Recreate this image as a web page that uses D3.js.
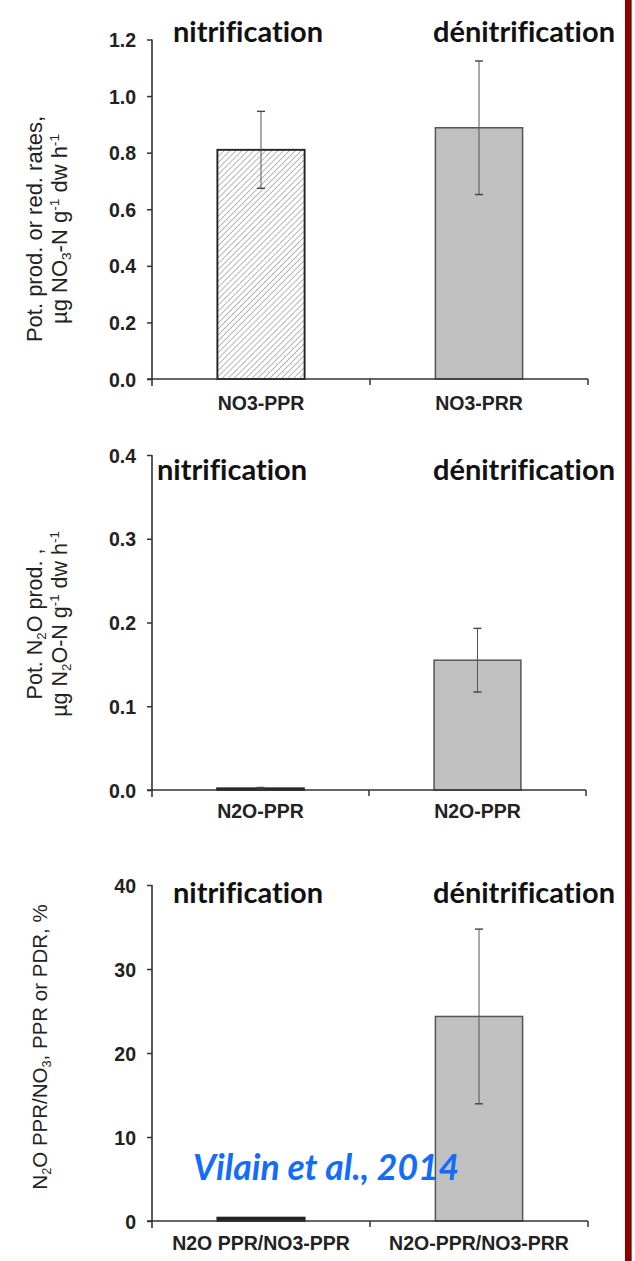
<!DOCTYPE html>
<html>
<head>
<meta charset="utf-8">
<script src="https://cdn.jsdelivr.net/npm/d3@7"></script>
<style>
  html, body { margin: 0; padding: 0; background: #fff; }
  svg { display: block; }
  .tick text { font-family: "Liberation Sans", Arial, sans-serif; font-weight: bold; fill: #222; }
  .head { font-variant-ligatures: none; font-feature-settings: "liga" 0; }
</style>
</head>
<body>
<svg id="chart" width="635" height="1261"></svg>
<script>
// Panel 1: potential NO3 production / reduction rates
const labels1 = ["NO3-PPR", "NO3-PRR"];
const values1 = [0.81, 0.888];
const errors1 = [0.136, 0.236];
const ticks1 = [0, 0.2, 0.4, 0.6, 0.8, 1.0, 1.2];

// Panel 2: potential N2O production
const labels2 = ["N2O-PPR", "N2O-PPR"];
const values2 = [0.002, 0.155];
const errors2 = [0.001, 0.038];
const ticks2 = [0, 0.1, 0.2, 0.3, 0.4];

// Panel 3: N2O yield, %
const labels3 = ["N2O PPR/NO3-PPR", "N2O-PPR/NO3-PRR"];
const values3 = [0.4, 24.35];
const errors3 = [0, 10.4];
const ticks3 = [0, 10, 20, 30, 40];

const processNames = ["nitrification", "dénitrification"];
const citation = "Vilain et al., 2014";

const svg = d3.select("#chart");
svg.append("rect").attr("width", 635).attr("height", 1261).attr("fill", "#fff");

// diagonal hatch for the nitrification bars
const defs = svg.append("defs");
const pat = defs.append("pattern")
  .attr("id", "hatch").attr("patternUnits", "userSpaceOnUse")
  .attr("width", 4.2).attr("height", 4.2)
  .attr("patternTransform", "rotate(45)");
pat.append("rect").attr("width", 4.2).attr("height", 4.2).attr("fill", "#fff");
pat.append("line").attr("x1", 0).attr("y1", 0).attr("x2", 0).attr("y2", 4.2)
  .attr("stroke", "#9a9a9a").attr("stroke-width", 1.4);

const fills = ["url(#hatch)", "#c0c0c0"];
const strokes = ["#222", "#555"];

function panel(cfg) {
  const g = svg.append("g");
  const x = d3.scaleBand().domain([0, 1]).range([cfg.x0, cfg.x1])
    .paddingInner(0.6).paddingOuter(0.3);
  const y = d3.scaleLinear().domain(cfg.domain).range([cfg.yBottom, cfg.yTop]);

  // bars (very short bars collapse to a dark outline)
  g.selectAll("rect.bar").data(cfg.values).join("rect")
    .attr("class", "bar")
    .attr("x", (d, i) => x(i))
    .attr("width", x.bandwidth())
    .attr("y", d => y(d))
    .attr("height", d => y(0) - y(d))
    .attr("fill", (d, i) => (y(0) - y(d) < 5 ? "#222" : fills[i]))
    .attr("stroke", (d, i) => strokes[i])
    .attr("stroke-width", (d, i) => (i === 0 ? 1.9 : 1.5));

  // error bars
  const eb = g.selectAll("g.err").data(cfg.values.map((v, i) => ({ v, e: cfg.errors[i], i })))
    .join("g").attr("class", "err")
    .filter(d => d.e > 0);
  const cx = d => x(d.i) + x.bandwidth() / 2;
  eb.append("line")
    .attr("x1", cx).attr("x2", cx)
    .attr("y1", d => y(d.v + d.e)).attr("y2", d => y(d.v - d.e))
    .attr("stroke", "#555").attr("stroke-width", 1);
  [1, -1].forEach(s => {
    eb.append("line")
      .attr("x1", d => cx(d) - 4).attr("x2", d => cx(d) + 4)
      .attr("y1", d => y(d.v + s * d.e)).attr("y2", d => y(d.v + s * d.e))
      .attr("stroke", "#444").attr("stroke-width", 1.4);
  });

  // y axis
  const ya = g.append("g").attr("transform", `translate(${cfg.x0},0)`)
    .call(d3.axisLeft(y).tickValues(cfg.ticks).tickFormat(d3.format(cfg.fmt))
      .tickSize(5).tickSizeOuter(0).tickPadding(11));
  ya.select(".domain").remove();
  ya.selectAll(".tick line").attr("stroke", "#333").attr("stroke-width", 1.5);
  ya.selectAll(".tick text").attr("font-size", 19.5).attr("dy", "0.36em");
  g.append("line").attr("x1", cfg.x0).attr("x2", cfg.x0)
    .attr("y1", y(cfg.domain[1])).attr("y2", y(0) + 7)
    .attr("stroke", "#333").attr("stroke-width", 1.6);

  // x axis: baseline, boundary ticks and category labels
  g.append("line").attr("x1", cfg.x0 - 5).attr("x2", cfg.x1)
    .attr("y1", y(0)).attr("y2", y(0))
    .attr("stroke", "#333").attr("stroke-width", 1.6);
  [1, 2].forEach(k => {
    const bx = cfg.x0 + k * x.step();
    g.append("line").attr("x1", bx).attr("x2", bx)
      .attr("y1", y(0)).attr("y2", y(0) + 6)
      .attr("stroke", "#333").attr("stroke-width", 1.5);
  });
  const xa = g.append("g").attr("transform", `translate(0,${y(0)})`)
    .call(d3.axisBottom(x).tickSize(0).tickPadding(0).tickFormat(i => cfg.labels[i]));
  xa.select(".domain").remove();
  xa.selectAll(".tick text").attr("font-size", 19.5).attr("dy", null)
    .attr("y", cfg.labelDy);

  // y axis title (rotated)
  const t = g.append("text")
    .attr("transform", `translate(0,${cfg.titleY}) rotate(-90)`)
    .attr("font-family", '"Liberation Sans", Arial, sans-serif')
    .attr("font-size", cfg.titleSize).attr("fill", "#222")
    .attr("text-anchor", "middle");
  cfg.titleLines.forEach((parts, li) => {
    const line = t.append("tspan").attr("x", 0).attr("y", cfg.titleX[li]);
    parts.forEach(p => {
      const s = line.append("tspan").text(p[0]);
      if (p[1] === "sub") s.attr("font-size", cfg.titleSize * 0.62).attr("dy", 4);
      if (p[1] === "sup") s.attr("font-size", cfg.titleSize * 0.62).attr("dy", -8);
      if (p[2] !== undefined) s.attr("dy", p[2]);
    });
  });

  // process headings
  g.append("text").attr("class", "head").attr("x", cfg.nitX).attr("y", cfg.headY)
    .attr("font-family", "Lato, 'Open Sans', sans-serif").attr("font-weight", "bold")
    .attr("font-size", 29).attr("fill", "#111").text(processNames[0]);
  g.append("text").attr("class", "head").attr("x", 615).attr("y", cfg.headY)
    .attr("text-anchor", "end")
    .attr("font-family", "Lato, 'Open Sans', sans-serif").attr("font-weight", "bold")
    .attr("font-size", 29).attr("fill", "#111").text(processNames[1]);
  return { x, y };
}

panel({
  x0: 152, x1: 588, yTop: 39.5, yBottom: 379, domain: [0, 1.2],
  values: values1, errors: errors1, ticks: ticks1, fmt: ".1f", labels: labels1,
  labelDy: 31, titleY: 229, titleX: [42, 67], titleSize: 22,
  titleLines: [
    [["Pot. prod. or red. rates,"]],
    [["µg NO"], ["3", "sub"], ["-N g", null, -4], ["-1", "sup"], [" dw h", null, 8], ["-1", "sup"]]
  ],
  nitX: 173, headY: 42
});

panel({
  x0: 152, x1: 586, yTop: 455, yBottom: 790, domain: [0, 0.4],
  values: values2, errors: errors2, ticks: ticks2, fmt: ".1f", labels: labels2,
  labelDy: 28, titleY: 624, titleX: [42, 67], titleSize: 21.5,
  titleLines: [
    [["Pot. N"], ["2", "sub"], ["O prod. ,", null, -4]],
    [["µg N"], ["2", "sub"], ["O-N g", null, -4], ["-1", "sup"], [" dw h", null, 8], ["-1", "sup"]]
  ],
  nitX: 157, headY: 480
});

panel({
  x0: 152, x1: 588, yTop: 885, yBottom: 1221, domain: [0, 40],
  values: values3, errors: errors3, ticks: ticks3, fmt: "d", labels: labels3,
  labelDy: 29, titleY: 1047, titleX: [47], titleSize: 20.5,
  titleLines: [
    [["N"], ["2", "sub"], ["O PPR/NO", null, -4], ["3", "sub"], [", PPR or PDR, %", null, -4]]
  ],
  nitX: 173, headY: 903
});

// citation
svg.append("text").attr("x", 193).attr("y", 1180)
  .attr("font-family", "Lato, 'Open Sans', sans-serif").attr("font-weight", "bold")
  .attr("font-style", "italic").attr("font-size", 35.5).attr("fill", "#136cfa")
  .text(citation);

// dark red rule on the right edge
svg.append("line").attr("x1", 628.3).attr("x2", 628.3).attr("y1", 0).attr("y2", 1261)
  .attr("stroke", "#8a0000").attr("stroke-width", 6.7);
</script>
</body>
</html>
